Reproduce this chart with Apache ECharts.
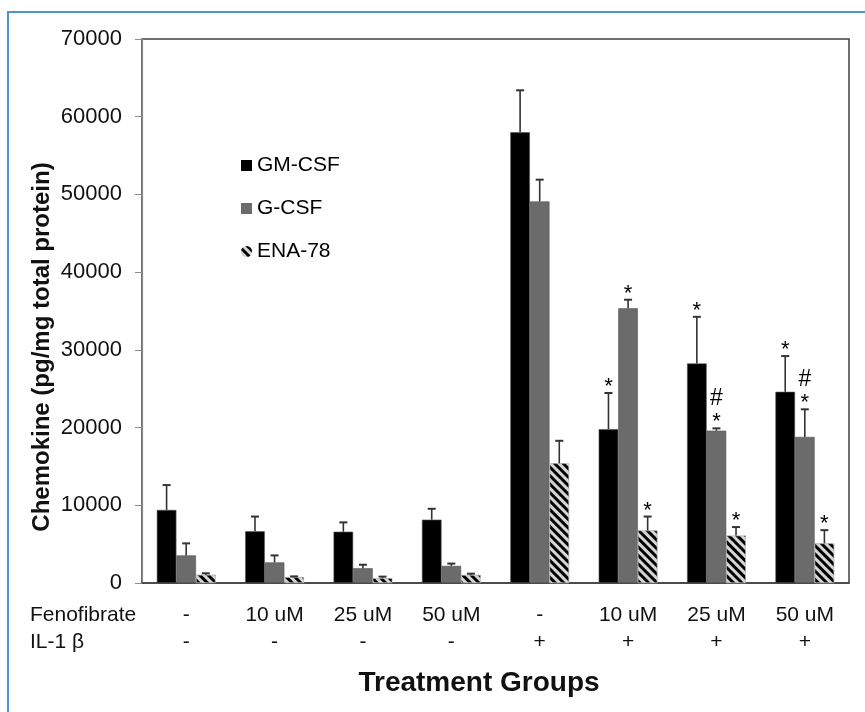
<!DOCTYPE html>
<html>
<head>
<meta charset="utf-8">
<script src="https://cdn.jsdelivr.net/npm/echarts@6/dist/echarts.min.js"></script>
<style>html,body{margin:0;padding:0;background:#fff;}#c{width:865px;height:712px;}</style>
</head>
<body>
<div id="c"></div>
<script>
// ---- data ----
var fenofibrate = ['-', '10 uM', '25 uM', '50 uM', '-', '10 uM', '25 uM', '50 uM'];
var il1b = ['-', '-', '-', '-', '+', '+', '+', '+'];
var seriesNames = ['GM-CSF', 'G-CSF', 'ENA-78'];
var gmcsf    = [9400, 6650, 6600, 8150, 58000, 19800, 28250, 24600];
var gmcsfErr = [3200, 1900, 1200, 1400, 5400, 4650, 6000, 4600];
var gcsf     = [3550, 2650, 1900, 2200, 49100, 35350, 19600, 18800];
var gcsfErr  = [1550, 900, 450, 300, 2800, 1100, 300, 3550];
var ena78    = [1050, 750, 620, 1030, 15400, 6750, 6100, 5100];
var ena78Err = [200, 100, 200, 170, 2900, 1800, 1100, 1700];
var marksGM  = ['', '', '', '', '', '*', '*', '*'];
var marksG   = ['', '', '', '', '', '*', '#*', '#*'];
var marksENA = ['', '', '', '', '', '*', '*', '*'];
var yTicks = [0, 10000, 20000, 30000, 40000, 50000, 60000, 70000];

var categories = fenofibrate.map(function (f, i) { return f + '\n' + il1b[i]; });
var values = [gmcsf, gcsf, ena78];
var errs = [gmcsfErr, gcsfErr, ena78Err];
var marks = [marksGM, marksG, marksENA];
var colors = ['#000000', '#6b6b6b', '#d6d6d6'];
var FONT = 'Liberation Sans, Arial, sans-serif';
var CAT_GAP = 0.335;

var chart = echarts.init(document.getElementById('c'));

var series = [];
seriesNames.forEach(function (name, si) {
  var s = {
    name: name,
    type: 'bar',
    data: values[si],
    barGap: '0%',
    barCategoryGap: (CAT_GAP * 100) + '%',
    itemStyle: { color: colors[si], borderColor: si === 2 ? '#bdbdbd' : '#555', borderWidth: 0.6 },
    emphasis: { disabled: true },
    z: 2
  };
  if (si === 2) {
    s.itemStyle.decal = {
      symbol: 'rect',
      symbolSize: 1,
      dashArrayX: [1, 0],
      dashArrayY: [3, 3],
      rotation: Math.PI / 4,
      color: '#000000'
    };
  }
  series.push(s);
});

seriesNames.forEach(function (name, si) {
  series.push({
    type: 'custom',
    name: name + ' err',
    data: values[si].map(function (v, i) { return [i, v, v + errs[si][i]]; }),
    z: 5,
    silent: true,
    renderItem: function (params, api) {
      var i = api.value(0);
      var p = api.coord([i, api.value(1)]);
      var q = api.coord([i, api.value(2)]);
      var band = api.size([1, 0])[0];
      var bw = band * (1 - CAT_GAP) / 3;
      var cx = p[0] + (si - 1) * bw;
      var cap = 4;
      var children = [
        { type: 'line', shape: { x1: cx, y1: p[1], x2: cx, y2: q[1] }, style: { stroke: '#333', lineWidth: 1.6 } },
        { type: 'line', shape: { x1: cx - cap, y1: q[1], x2: cx + cap, y2: q[1] }, style: { stroke: '#333', lineWidth: 2 } }
      ];
      var m = marks[si][params.dataIndex];
      if (m.indexOf('*') >= 0) {
        children.push({ type: 'text', style: { text: '*', x: cx, y: q[1] - 6, align: 'center', verticalAlign: 'middle', font: '22px ' + FONT, fill: '#000' } });
      }
      if (m.indexOf('#') >= 0) {
        children.push({ type: 'text', style: { text: '#', x: cx, y: q[1] - 30, align: 'center', verticalAlign: 'middle', font: '23px ' + FONT, fill: '#000' } });
      }
      return { type: 'group', children: children };
    }
  });
});

chart.setOption({
  animation: false,
  backgroundColor: '#ffffff',
  grid: { left: 142, right: 16, top: 39, bottom: 129, show: true, borderColor: '#404040', borderWidth: 1.5, backgroundColor: 'transparent' },
  legend: {
    orient: 'vertical',
    left: 236,
    top: 150,
    itemWidth: 11,
    itemHeight: 11,
    itemGap: 22,
    itemStyle: { borderWidth: 0 },
    textStyle: { fontSize: 21, fontFamily: FONT, color: '#000' },
    data: [
      { name: 'GM-CSF', icon: 'rect' },
      { name: 'G-CSF', icon: 'rect' },
      { name: 'ENA-78', icon: 'circle' }
    ],
    selectedMode: false
  },
  xAxis: {
    type: 'category',
    data: categories,
    axisTick: { show: false },
    axisLine: { lineStyle: { color: '#404040', width: 1.5 } },
    axisLabel: {
      interval: 0,
      margin: 19,
      fontSize: 21,
      lineHeight: 27,
      fontFamily: FONT,
      color: '#111'
    }
  },
  yAxis: {
    type: 'value',
    min: 0,
    max: 70000,
    interval: 10000,
    splitLine: { show: false },
    axisLine: { show: true, lineStyle: { color: '#8a8a8a', width: 1.2 } },
    axisTick: { show: true, length: 7, lineStyle: { color: '#8a8a8a' } },
    axisLabel: {
      margin: 20,
      fontSize: 22,
      fontFamily: FONT,
      color: '#111',
      formatter: function (v) { return yTicks.indexOf(v) >= 0 ? String(v) : ''; }
    }
  },
  graphic: [
    { type: 'rect', z: -10, silent: true, shape: { x: 8, y: 12, width: 900, height: 800 }, style: { fill: 'none', stroke: '#4f94cd', lineWidth: 2 } },
    { type: 'text', silent: true, style: { text: 'Fenofibrate', x: 30, y: 615, align: 'left', verticalAlign: 'middle', font: '21px ' + FONT, fill: '#111' } },
    { type: 'text', silent: true, style: { text: 'IL-1 β', x: 30, y: 642, align: 'left', verticalAlign: 'middle', font: '21px ' + FONT, fill: '#111' } },
    { type: 'text', silent: true, style: { text: 'Treatment Groups', x: 479, y: 683, align: 'center', verticalAlign: 'middle', font: 'bold 28px ' + FONT, fill: '#111' } },
    { type: 'text', silent: true, x: 42, y: 347, rotation: Math.PI / 2, style: { text: 'Chemokine (pg/mg total protein)', x: 0, y: 0, align: 'center', verticalAlign: 'middle', font: 'bold 24px ' + FONT, fill: '#111' } }
  ],
  series: series
});
</script>
</body>
</html>
